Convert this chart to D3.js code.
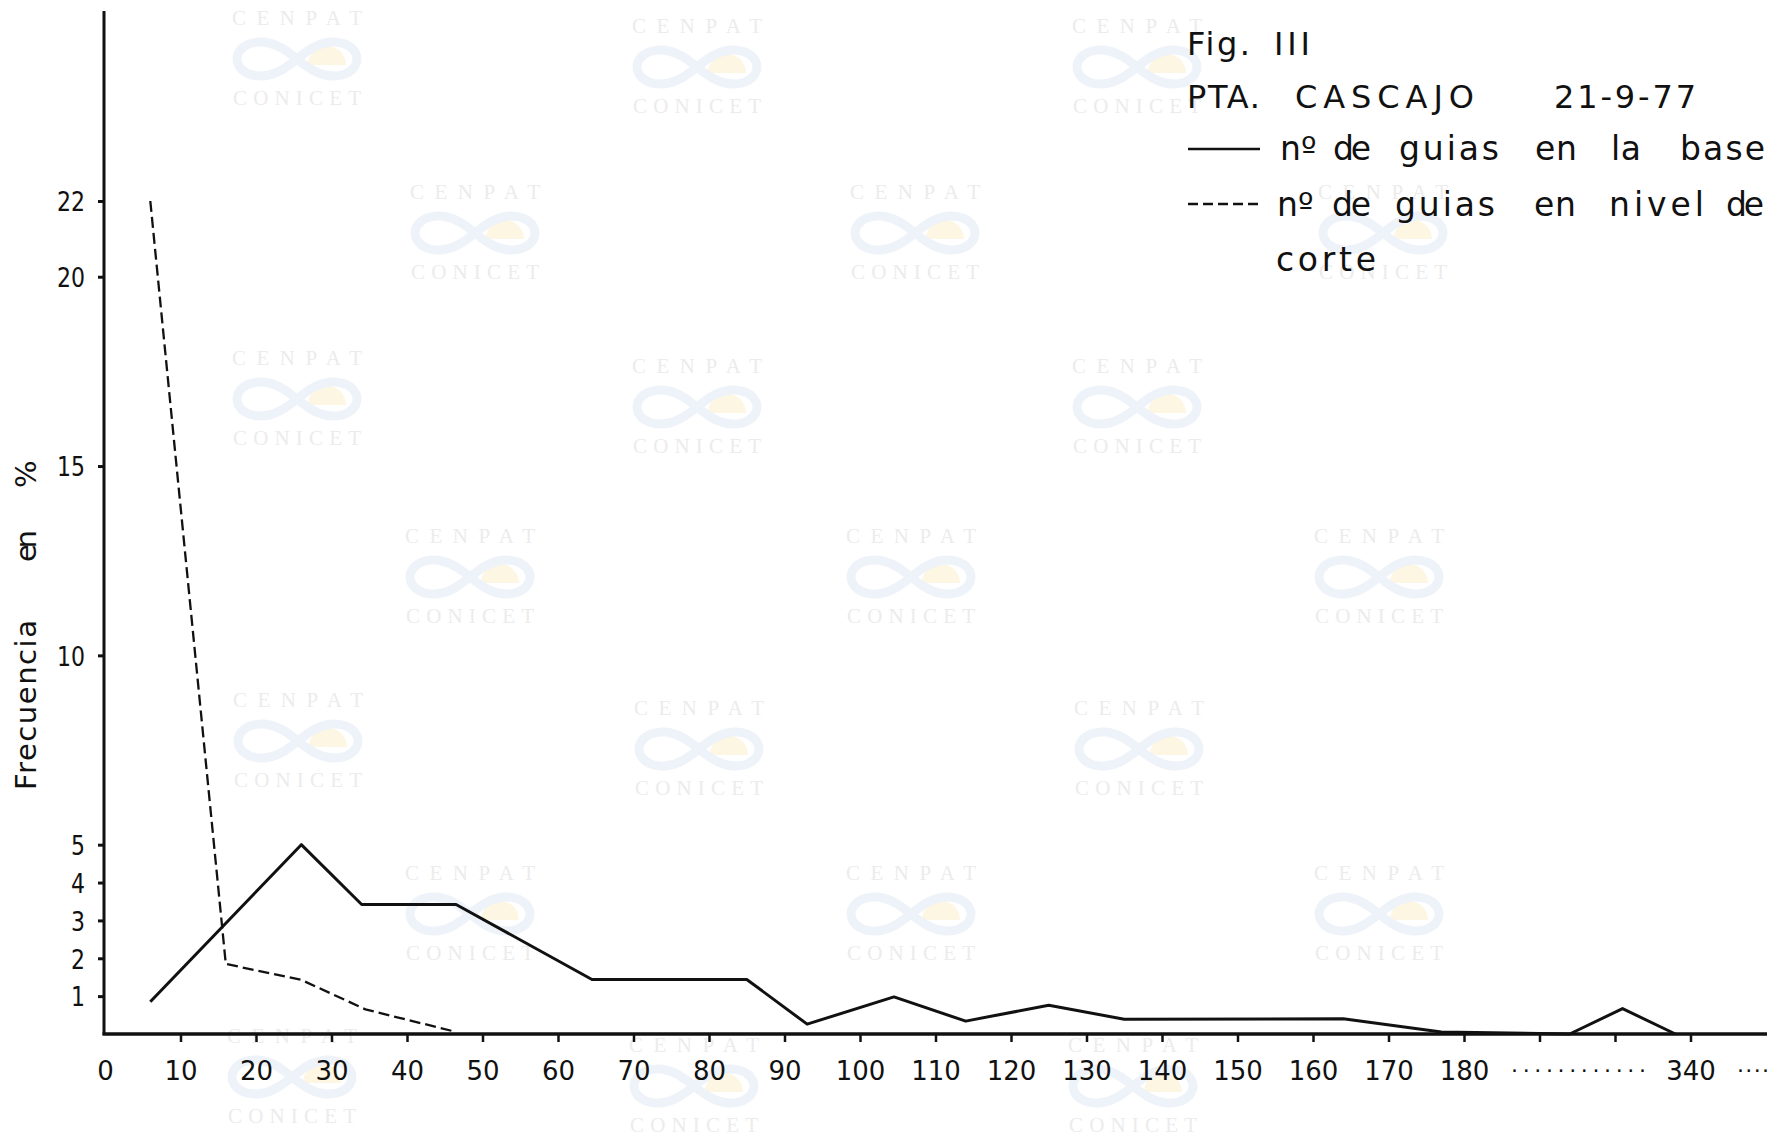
<!DOCTYPE html>
<html>
<head>
<meta charset="utf-8">
<script src="https://cdn.jsdelivr.net/npm/d3@7"></script>
<style>
  html, body { margin: 0; padding: 0; background: #fff; }
  svg { display: block; }
  text { font-family: "DejaVu Sans", sans-serif; fill: #111; }
</style>
</head>
<body>
<svg id="chart" width="1777" height="1137"></svg>
<script>
// Largo de guías (posición en el eje) y frecuencia en %
const baseLen   = [6, 26, 34, 46.5, 64.5, 85, 93, 104.5, 114, 125, 135, 164, 177, 324, 331, 338];
const baseFreq  = [0.85, 5.0, 3.42, 3.42, 1.44, 1.44, 0.26, 0.98, 0.34, 0.76, 0.39, 0.4, 0.05, 0, 0.67, 0];
const corteLen  = [6, 16, 26, 34.5, 46];
const corteFreq = [22, 1.85, 1.43, 0.65, 0.08];

const yTickValues = [1, 2, 3, 4, 5, 10, 15, 20, 22];
const xTickValues = [0, 10, 20, 30, 40, 50, 60, 70, 80, 90, 100, 110, 120, 130, 140, 150, 160, 170, 180, 320, 330, 340];
const xTickLabels = ["0", "10", "20", "30", "40", "50", "60", "70", "80", "90", "100", "110", "120", "130", "140", "150", "160", "170", "180", "", "", "340"];

const svg = d3.select("#chart");

// broken axis: 180 ... 340
const x = d3.scaleLinear()
  .domain([0, 180, 320, 340])
  .range([105, 1464, 1539.5, 1690.5]);
const y = d3.scaleLinear().domain([0, 22]).range([1034, 201]);

// ---- background watermark (sello institucional repetido) ----
const marks = [
  [297, 18], [697, 26], [1137, 26],
  [475, 192], [915, 192], [1383, 192],
  [297, 358], [697, 366], [1137, 366],
  [470, 536], [911, 536], [1379, 536],
  [298, 700], [699, 708], [1139, 708],
  [470, 873], [911, 873], [1379, 873],
  [292, 1036], [694, 1045], [1133, 1045]
];
const wm = svg.append("g").attr("class", "watermark");
const lemniscate = d3.line().curve(d3.curveCardinalClosed)(
  d3.range(0, 2 * Math.PI, Math.PI / 24).map(t => {
    const d = 1 + Math.sin(t) * Math.sin(t);
    return [60 * Math.cos(t) / d, 48 * Math.sin(t) * Math.cos(t) / d];
  })
);
marks.forEach(([cx, cy]) => {
  const g = wm.append("g");
  g.append("text").attr("x", cx - 65).attr("y", cy + 7)
    .attr("textLength", 130).attr("lengthAdjust", "spacing")
    .style("font-family", "'Liberation Serif', serif").style("font-size", "21px")
    .style("fill", "#ececec").text("CENPAT");
  const logo = g.append("g").attr("transform", `translate(${cx},${cy + 41})`);
  logo.append("path")
    .attr("d", d3.arc()({ innerRadius: 0, outerRadius: 19, startAngle: -Math.PI / 2, endAngle: Math.PI / 2 }))
    .attr("transform", "translate(30,6)")
    .attr("fill", "#fcf6e2");
  logo.append("path").attr("d", lemniscate)
    .attr("fill", "none").attr("stroke", "#eef2f9").attr("stroke-width", 9);
  g.append("text").attr("x", cx - 64).attr("y", cy + 87)
    .attr("textLength", 128).attr("lengthAdjust", "spacing")
    .style("font-family", "'Liberation Serif', serif").style("font-size", "21px")
    .style("fill", "#ececec").text("CONICET");
});

// ---- axes ----
const axisColor = "#111";
svg.append("line").attr("x1", 104).attr("x2", 104).attr("y1", 11).attr("y2", y(0) + 1)
  .attr("stroke", axisColor).attr("stroke-width", 3);
svg.append("line").attr("x1", 102.5).attr("x2", 1767).attr("y1", y(0)).attr("y2", y(0))
  .attr("stroke", axisColor).attr("stroke-width", 3.5);

const yAxis = svg.append("g").attr("transform", "translate(104,0)")
  .call(d3.axisLeft(y).tickValues(yTickValues).tickSize(6).tickFormat(d3.format("d")));
yAxis.select(".domain").remove();
yAxis.selectAll(".tick line").attr("stroke", axisColor).attr("stroke-width", 3);
yAxis.selectAll(".tick text").attr("x", -19).attr("dy", "0.36em")
  .attr("textLength", d => String(d).length * 14).attr("lengthAdjust", "spacingAndGlyphs")
  .style("font-size", "27px").style("fill", "#111");

const xAxis = svg.append("g").attr("transform", `translate(0,${y(0)})`)
  .call(d3.axisBottom(x).tickValues(xTickValues).tickSize(8)
    .tickFormat((d, i) => xTickLabels[i]));
xAxis.select(".domain").remove();
xAxis.selectAll(".tick line").attr("stroke", axisColor).attr("stroke-width", 2.5)
  .filter(d => d === 0).remove();
xAxis.selectAll(".tick text").attr("y", 46).attr("dy", 0)
  .style("font-size", "26px").style("fill", "#111");

// puntos suspensivos del eje cortado
svg.append("text").attr("x", 1511).attr("y", 1072).attr("textLength", 135).attr("lengthAdjust", "spacing")
  .style("font-size", "22px").text("............");
svg.append("text").attr("x", 1737).attr("y", 1072).attr("textLength", 32).attr("lengthAdjust", "spacing")
  .style("font-size", "22px").text("....");

// ---- series ----
const line = d3.line().x(d => x(d[0])).y(d => y(d[1]));
svg.append("path")
  .attr("d", line(baseLen.map((v, i) => [v, baseFreq[i]])))
  .attr("fill", "none").attr("stroke", "#111").attr("stroke-width", 3)
  .attr("stroke-linejoin", "round");
svg.append("path")
  .attr("d", line(corteLen.map((v, i) => [v, corteFreq[i]])))
  .attr("fill", "none").attr("stroke", "#111").attr("stroke-width", 2.3)
  .attr("stroke-dasharray", "11,5");

// ---- y title ----
[["Frecuencia", 790, 170], ["en", 562, 32], ["%", 488, 25]].forEach(([t, yy, w]) => {
  svg.append("text").attr("transform", `translate(36,${yy}) rotate(-90)`)
    .attr("textLength", w).attr("lengthAdjust", "spacing")
    .style("font-size", "29px").text(t);
});

// ---- título y leyenda ----
const words = [
  ["Fig.", 1187, 55, 63, 32], ["III", 1274, 55, 36, 32],
  ["PTA.", 1187, 108, 73, 32], ["CASCAJO", 1295, 108, 179, 32], ["21-9-77", 1554, 108, 142, 32],
  ["nº", 1280, 160, 0, 33], ["de", 1333, 160, 38, 33], ["guias", 1399, 160, 100, 33],
  ["en", 1535, 160, 42, 33], ["la", 1611, 160, 30, 33], ["base", 1680, 160, 85, 33],
  ["nº", 1277, 216, 0, 33], ["de", 1332, 216, 39, 33], ["guias", 1395, 216, 100, 33],
  ["en", 1534, 216, 42, 33], ["nivel", 1609, 216, 95, 33], ["de", 1726, 216, 38, 33],
  ["corte", 1276, 271, 100, 33]
];
const leg = svg.append("g");
words.forEach(([t, xx, yy, w, fs]) => {
  const el = leg.append("text").attr("x", xx).attr("y", yy)
    .style("font-size", fs + "px").text(t);
  if (w) el.attr("textLength", w).attr("lengthAdjust", "spacing");
});
leg.append("line").attr("x1", 1188).attr("x2", 1260).attr("y1", 149).attr("y2", 149)
  .attr("stroke", "#111").attr("stroke-width", 2.5);
leg.append("line").attr("x1", 1188).attr("x2", 1261).attr("y1", 204).attr("y2", 204)
  .attr("stroke", "#111").attr("stroke-width", 2.3).attr("stroke-dasharray", "10,5");
</script>
</body>
</html>
